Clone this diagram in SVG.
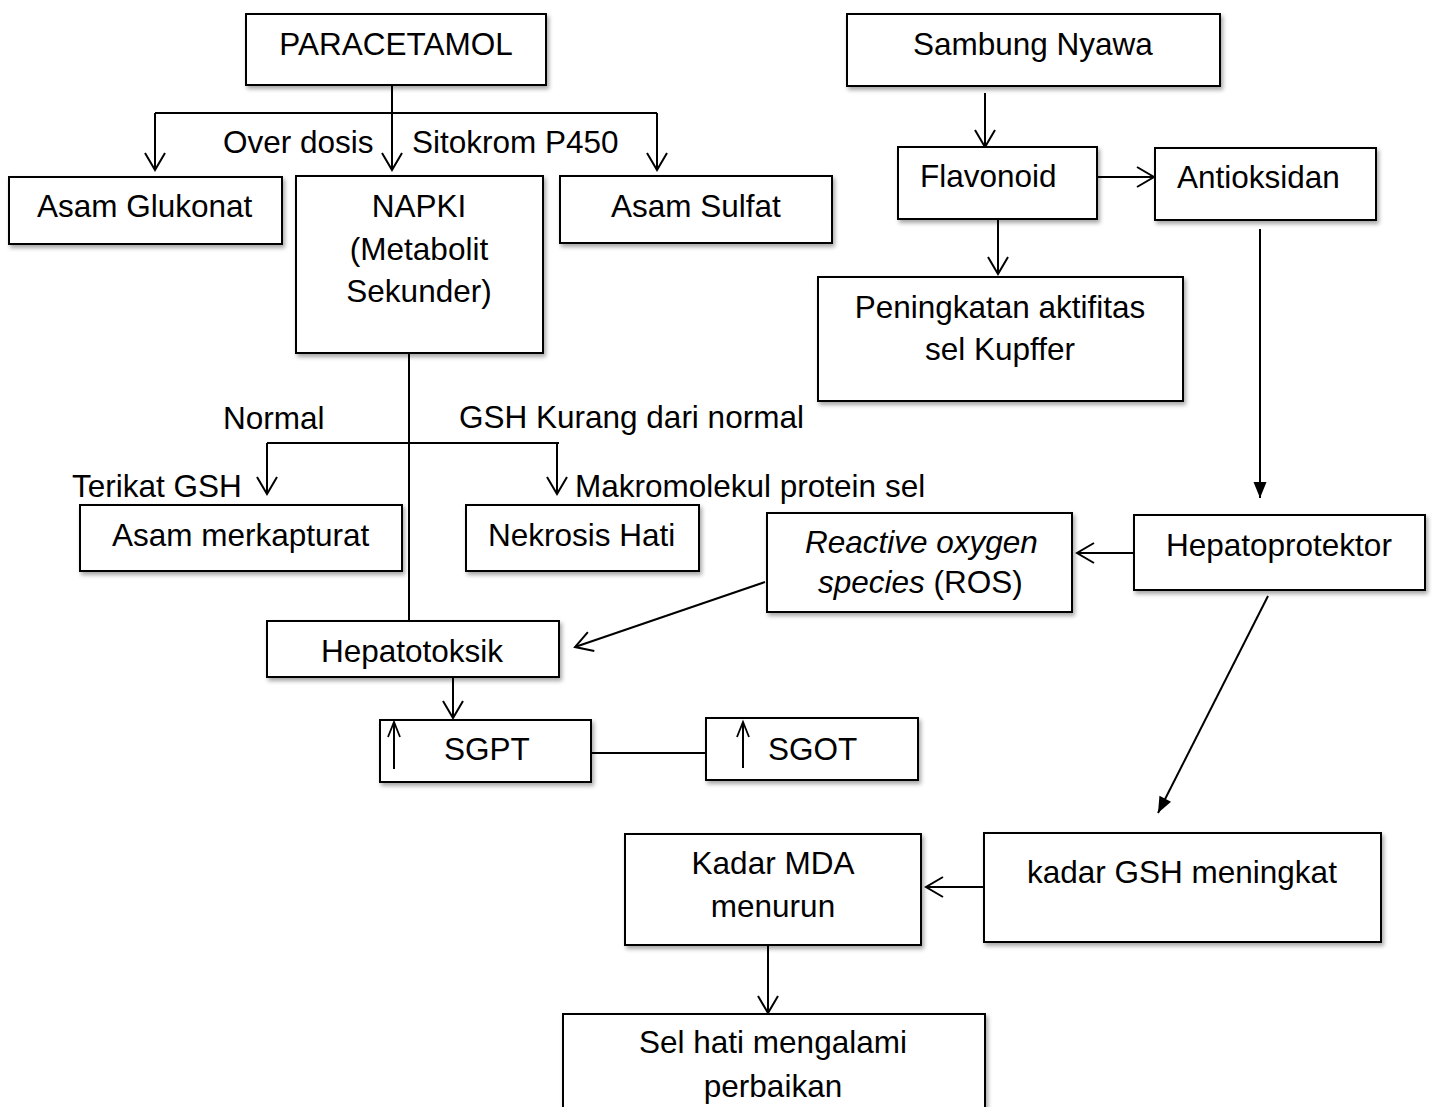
<svg xmlns="http://www.w3.org/2000/svg" width="1432" height="1107" viewBox="0 0 1432 1107">
<style>
  .box { fill: #ffffff; stroke: #000000; stroke-width: 2; filter: url(#shadow); }
  .t { font-family: "Liberation Sans", Arial, sans-serif; font-size: 31.5px; fill: #000000; }
  .m { text-anchor: middle; }
  .i { font-style: italic; }
  .c { fill: none; stroke: #000000; stroke-width: 2; }
  .oa { marker-end: url(#open); }
  .fa { marker-end: url(#filled); }
  .ua { marker-end: url(#small); }
</style>
<defs>
  <filter id="shadow" x="-10%" y="-10%" width="130%" height="140%">
    <feDropShadow dx="2" dy="3" stdDeviation="2" flood-color="#000000" flood-opacity="0.35"/>
  </filter>
  <marker id="open" markerUnits="userSpaceOnUse" markerWidth="22" markerHeight="24" refX="18" refY="11" orient="auto" overflow="visible">
    <path d="M1,1 L18,11 L1,21" fill="none" stroke="#000000" stroke-width="2"/>
  </marker>
  <marker id="filled" markerUnits="userSpaceOnUse" markerWidth="18" markerHeight="14" refX="16" refY="6.5" orient="auto" overflow="visible">
    <path d="M0,0 L16,6.5 L0,13 Z" fill="#000000"/>
  </marker>
  <marker id="small" markerUnits="userSpaceOnUse" markerWidth="18" markerHeight="16" refX="16" refY="7" orient="auto" overflow="visible">
    <path d="M1,1 L16,7 L1,13" fill="none" stroke="#000000" stroke-width="1.8"/>
  </marker>
</defs>
<rect width="1432" height="1107" fill="#ffffff"/>

<g id="connectors">
  <path class="c oa" d="M392,85 L392,170"/>
  <path class="c" d="M155,113 L657,113"/>
  <path class="c oa" d="M155,113 L155,170"/>
  <path class="c oa" d="M657,113 L657,170"/>
  <path class="c oa" d="M985,93 L985,147"/>
  <path class="c oa" d="M1097,177 L1154,177"/>
  <path class="c oa" d="M998,219 L998,274"/>
  <path class="c fa" d="M1260,229 L1260,498"/>
  <path class="c oa" d="M1137,553 L1077,553"/>
  <path class="c fa" d="M1268,596 L1158,813"/>
  <path class="c oa" d="M985,887 L926,887"/>
  <path class="c oa" d="M768,945 L768,1013"/>
  <path class="c" d="M409,353 L409,621"/>
  <path class="c" d="M267,443 L559,443"/>
  <path class="c oa" d="M267,443 L267,494"/>
  <path class="c oa" d="M557,443 L557,494"/>
  <path class="c oa" d="M765,582 L575,647"/>
  <path class="c oa" d="M453,677 L453,718"/>
  <path class="c" d="M591,753 L706,753"/>
</g>

<g id="paracetamol"><rect class="box" x="246" y="14" width="300" height="71"/><text class="t m" x="396" y="55">PARACETAMOL</text></g>
<g id="sambung-nyawa"><rect class="box" x="847" y="14" width="373" height="72"/><text class="t" x="913" y="55">Sambung Nyawa</text></g>
<g id="asam-glukonat"><rect class="box" x="9" y="177" width="273" height="67"/><text class="t" x="37" y="217">Asam Glukonat</text></g>
<g id="napki"><rect class="box" x="296" y="176" width="247" height="177"/>
  <text class="t m" x="419" y="217">NAPKI</text>
  <text class="t m" x="419" y="260">(Metabolit</text>
  <text class="t m" x="419" y="302">Sekunder)</text></g>
<g id="asam-sulfat"><rect class="box" x="560" y="176" width="272" height="67"/><text class="t" x="611" y="217">Asam Sulfat</text></g>
<g id="flavonoid"><rect class="box" x="898" y="147" width="199" height="72"/><text class="t" x="920" y="187">Flavonoid</text></g>
<g id="antioksidan"><rect class="box" x="1155" y="148" width="221" height="72"/><text class="t" x="1177" y="188">Antioksidan</text></g>
<g id="peningkatan"><rect class="box" x="818" y="277" width="365" height="124"/>
  <text class="t m" x="1000" y="318">Peningkatan aktifitas</text>
  <text class="t m" x="1000" y="360">sel Kupffer</text></g>

<g id="labels">
  <text class="t" x="223" y="153">Over dosis</text>
  <text class="t" x="412" y="153">Sitokrom P450</text>
  <text class="t" x="223" y="429">Normal</text>
  <text class="t" x="459" y="428">GSH Kurang dari normal</text>
  <text class="t" x="72" y="497">Terikat GSH</text>
  <text class="t" x="575" y="497">Makromolekul protein sel</text>
</g>

<g id="asam-merkapturat"><rect class="box" x="80" y="505" width="322" height="66"/><text class="t" x="112" y="546">Asam merkapturat</text></g>
<g id="nekrosis-hati"><rect class="box" x="466" y="505" width="233" height="66"/><text class="t" x="488" y="546">Nekrosis Hati</text></g>
<g id="ros"><rect class="box" x="767" y="513" width="305" height="99"/>
  <text class="t i" x="805" y="553">Reactive oxygen</text>
  <text class="t" x="818" y="593"><tspan class="i">species</tspan> (ROS)</text></g>
<g id="hepatoprotektor"><rect class="box" x="1134" y="515" width="291" height="75"/><text class="t" x="1166" y="556">Hepatoprotektor</text></g>
<g id="hepatotoksik"><rect class="box" x="267" y="621" width="292" height="56"/><text class="t" x="321" y="662">Hepatotoksik</text></g>
<g id="sgpt"><rect class="box" x="380" y="720" width="211" height="62"/>
  <path class="c ua" d="M394,769 L394,722"/>
  <text class="t" x="444" y="760">SGPT</text></g>
<g id="sgot"><rect class="box" x="706" y="718" width="212" height="62"/>
  <path class="c ua" d="M743,768 L743,722"/>
  <text class="t" x="768" y="760">SGOT</text></g>
<g id="kadar-mda"><rect class="box" x="625" y="834" width="296" height="111"/>
  <text class="t m" x="773" y="874">Kadar MDA</text>
  <text class="t m" x="773" y="917">menurun</text></g>
<g id="kadar-gsh"><rect class="box" x="984" y="833" width="397" height="109"/><text class="t" x="1027" y="883">kadar GSH meningkat</text></g>
<g id="sel-hati"><rect class="box" x="563" y="1014" width="422" height="110"/>
  <text class="t m" x="773" y="1053">Sel hati mengalami</text>
  <text class="t m" x="773" y="1097">perbaikan</text></g>
</svg>
